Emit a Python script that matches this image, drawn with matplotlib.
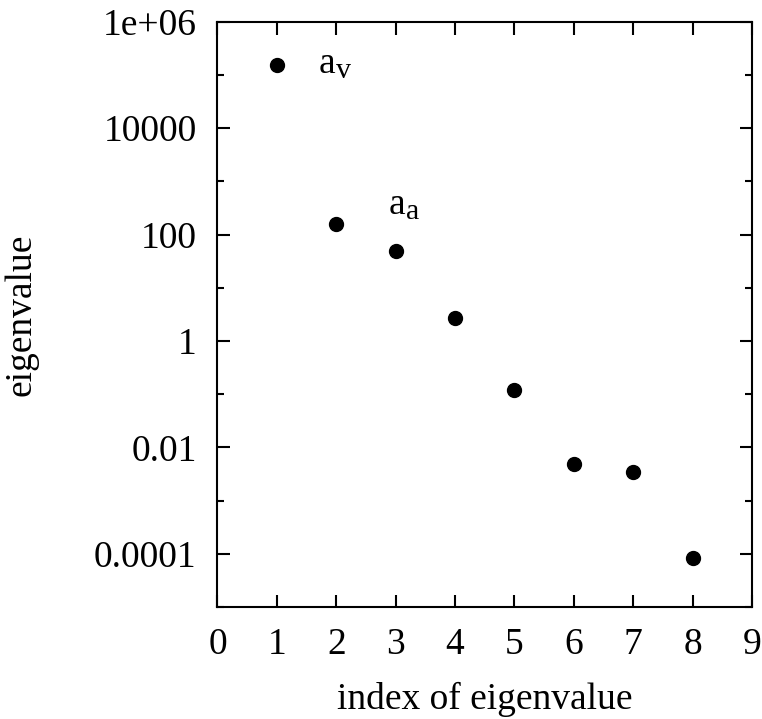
import matplotlib
matplotlib.use('Agg')
import matplotlib.pyplot as plt
from matplotlib.ticker import FixedLocator, NullFormatter

plt.rcParams['font.family'] = ['Liberation Serif', 'DejaVu Serif']

# eigenvalue spectrum
index = [1, 2, 3, 4, 5, 6, 7, 8]
eigenvalue = [1.55e5, 160, 50, 2.75, 0.12, 0.0048, 0.0035, 8.5e-5]

y_major = [1e-4, 1e-2, 1, 1e2, 1e4, 1e6]
y_major_labels = ['0.0001', '0.01', '1', '100', '10000', '1e+06']
y_minor = [1e-5, 1e-3, 1e-1, 1e1, 1e3, 1e5]
x_ticks = list(range(0, 10))

# annotated eigenvalues: (base, subscript, x, y)
notes = [('a', 'v', 1.71, 1.09e5), ('a', 'a', 2.89, 243)]

FS = 27

fig = plt.figure(figsize=(7.62, 7.19), dpi=100)
ax = fig.add_axes([0.2854, 0.1558, 0.7015, 0.814])

ax.plot(index, eigenvalue, 'o', color='black', markersize=10)

ax.set_yscale('log')
ax.set_xlim(0, 9)
ax.set_ylim(1e-5, 1e6)

ax.yaxis.set_major_locator(FixedLocator(y_major))
ax.set_yticklabels(y_major_labels)
ax.yaxis.set_minor_locator(FixedLocator(y_minor))
ax.yaxis.set_minor_formatter(NullFormatter())
ax.set_xticks(x_ticks)

ax.tick_params(which='both', direction='in', top=True, right=True,
               labelsize=FS, width=1.5, pad=15)
ax.tick_params(which='major', length=9)
ax.tick_params(which='minor', length=5)
for s in ax.spines.values():
    s.set_linewidth(1.5)

for base, sub, x, y in notes:
    ax.text(x, y, base, fontsize=FS, ha='left', va='baseline')
    ax.annotate(sub, xy=(x, y), xytext=(12.3, -3.5), textcoords='offset points',
                fontsize=FS * 0.8, ha='left', va='baseline')

ax.set_xlabel('index of eigenvalue', fontsize=FS, labelpad=14)
ax.set_ylabel('eigenvalue', fontsize=FS, labelpad=40)

fig.savefig('out.png', dpi=100)
